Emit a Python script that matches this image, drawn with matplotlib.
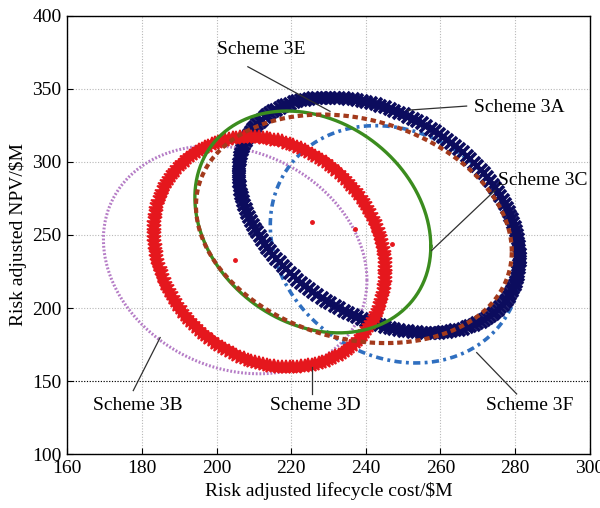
import numpy as np
import matplotlib
matplotlib.use("Agg")
import matplotlib.pyplot as plt

plt.rcParams['font.family'] = ['Liberation Serif', 'DejaVu Serif']

# ellipse parameters: centre, half width, half height, tilt (corr.)
schemes = ["Scheme 3A", "Scheme 3B", "Scheme 3C", "Scheme 3D", "Scheme 3E", "Scheme 3F"]
centre_x = [243.6, 205.0, 225.8, 214.2, 236.8, 248.0]
centre_y = [263.5, 233.0, 258.9, 238.3, 254.2, 243.6]
half_x = [37.6, 35.3, 31.6, 31.0, 42.3, 33.6]
half_y = [80.5, 78.0, 75.9, 78.7, 78.2, 81.2]
corr = [-0.36, -0.18, -0.22, -0.17, -0.20, -0.16]

# centre markers that are visible in the plot
dot_x = [205.0, 225.5, 237.0, 247.0]
dot_y = [233.0, 258.6, 254.1, 243.6]

x_ticks = [160, 180, 200, 220, 240, 260, 280, 300]
y_ticks = [100, 150, 200, 250, 300, 350, 400]


def outline(i, n):
    t = np.linspace(0, 2 * np.pi, n)
    r = corr[i]
    x = centre_x[i] + half_x[i] * np.cos(t)
    y = centre_y[i] + half_y[i] * (r * np.cos(t) + np.sqrt(1 - r * r) * np.sin(t))
    return x, y


fig = plt.figure(figsize=(6.0, 5.08), dpi=100)
ax = fig.add_axes([0.112, 0.106, 0.871, 0.863])

ax.set_xlim(160, 300)
ax.set_ylim(100, 400)
ax.set_xticks(x_ticks)
ax.set_yticks(y_ticks)
ax.grid(True, color='#b8b8b8', linestyle=(0, (1, 1.5)), linewidth=0.8)
ax.axhline(150, color='black', linestyle=(0, (1, 1.5)), linewidth=0.8)
ax.tick_params(direction='in', length=4, labelsize=14, pad=4)
for s in ax.spines.values():
    s.set_linewidth(1.0)

# 3B purple dotted
x, y = outline(1, 400)
ax.plot(x, y, color='#b57cc6', linestyle=(0, (0.6, 0.6)), linewidth=2.2, zorder=2)
# 3F blue dash dot
x, y = outline(5, 400)
ax.plot(x, y, color='#2f6fc0', linestyle=(0, (2.0, 1.2, 0.8, 1.2)), linewidth=2.6, zorder=3)
# 3A navy thick crosses
x, y = outline(0, 190)
ax.plot(x, y, linestyle='none', marker='x', markersize=8, markeredgewidth=2.6,
        color='#0c0c5e', zorder=4)
# 3D red thick stars
x, y = outline(3, 190)
ax.plot(x, y, linestyle='none', marker='*', markersize=10, markeredgewidth=1.2,
        color='#e5171d', zorder=5)
# 3C green solid
x, y = outline(2, 400)
ax.plot(x, y, color='#3b8c1e', linewidth=2.4, zorder=6)
# 3E brown dashed
x, y = outline(4, 400)
ax.plot(x, y, color='#a33a1c', linestyle=(0, (1.3, 0.9)), linewidth=3.0, zorder=7)

ax.plot(dot_x, dot_y, linestyle='none', marker='o', markersize=2.5, color='#e5171d', zorder=8)

# labels with leader lines
label_pos = [(269.0, 337.0, 'left'), (179.0, 133.0, 'center'), (275.5, 287.5, 'left'),
             (226.6, 133.0, 'center'), (212.0, 377.0, 'center'), (284.0, 133.0, 'center')]
leader = [((267.0, 338.2), (251.3, 335.4)),
          ((177.7, 143.5), (184.9, 179.8)),
          ((274.6, 280.5), (257.6, 239.3)),
          ((225.5, 141.2), (225.5, 159.7)),
          ((208.4, 365.1), (230.4, 334.6)),
          ((280.4, 141.2), (269.7, 169.5))]
for name, (lx, ly, ha), (p0, p1) in zip(schemes, label_pos, leader):
    ax.text(lx, ly, name, fontsize=14, ha=ha, va='center', zorder=10)
    ax.plot([p0[0], p1[0]], [p0[1], p1[1]], color='#303030', linewidth=0.9, zorder=9)

ax.set_xlabel('Risk adjusted lifecycle cost/$M', fontsize=14, labelpad=4)
ax.set_ylabel('Risk adjusted NPV/$M', fontsize=14, labelpad=4)

fig.savefig('out.png', dpi=100)
